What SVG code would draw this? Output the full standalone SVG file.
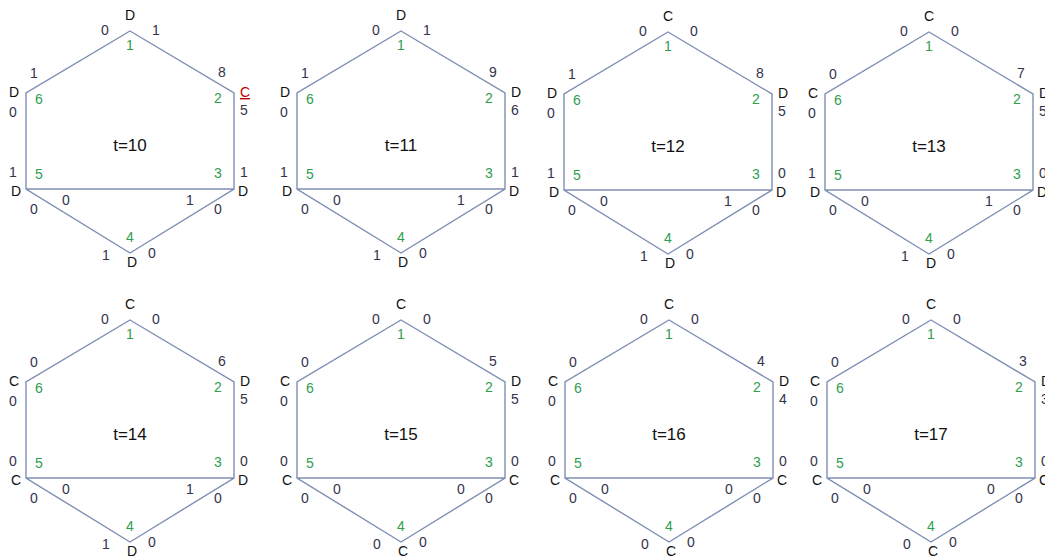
<svg xmlns="http://www.w3.org/2000/svg" width="1045" height="558" viewBox="0 0 1045 558">
<defs>
<style>
.e{stroke:#7f8fb4;stroke-width:1.4;fill:none}
text{font-family:"Liberation Sans",Arial,sans-serif;font-size:14px;text-anchor:middle}
.n{fill:#33334a}
.l{fill:#111}
.g{fill:#2f9e4f}
.t{fill:#111;font-size:17px}
.r{fill:#c00000;text-decoration:underline}
</style>
<path id="hex" class="e" d="M0,0 L104,62 L104,158 L0,222 L-104,158 L-104,62 Z M-104,158 L104,158"/>
</defs>
<g id="connectors">
<use href="#hex" transform="translate(130,31)"/>
<use href="#hex" transform="translate(401,31)"/>
<use href="#hex" transform="translate(668,32)"/>
<use href="#hex" transform="translate(929,32)"/>
<use href="#hex" transform="translate(130,320)"/>
<use href="#hex" transform="translate(401,320)"/>
<use href="#hex" transform="translate(669,320)"/>
<use href="#hex" transform="translate(931,320)"/>
</g>

<g id="panel-t10" transform="translate(130,31)">
<g id="p10-n1"><text class="l" x="0" y="-11">D</text><text class="n" x="-25" y="4">0</text><text class="n" x="26" y="4">1</text><text class="g" x="0" y="19">1</text></g>
<g id="p10-n6"><text class="n" x="-96" y="47">1</text><text class="l" x="-116" y="66">D</text><text class="g" x="-91" y="73">6</text><text class="n" x="-117" y="86">0</text></g>
<g id="p10-n2"><text class="n" x="92" y="46">8</text><text class="r" x="115" y="66">C</text><text class="g" x="88" y="72">2</text><text class="n" x="114" y="84">5</text></g>
<text class="t" x="0" y="120">t=10</text>
<g id="p10-n5"><text class="n" x="-117" y="146">1</text><text class="g" x="-91" y="148">5</text><text class="l" x="-114" y="165">D</text><text class="n" x="-96" y="183">0</text><text class="n" x="-64" y="174">0</text></g>
<g id="p10-n3"><text class="g" x="88" y="147">3</text><text class="n" x="114" y="146">1</text><text class="l" x="113" y="165">D</text><text class="n" x="60" y="174">1</text><text class="n" x="88" y="183">0</text></g>
<g id="p10-n4"><text class="g" x="0" y="211">4</text><text class="n" x="-24" y="229">1</text><text class="l" x="2" y="236">D</text><text class="n" x="22" y="227">0</text></g>
</g>

<g id="panel-t11" transform="translate(401,31)">
<g id="p11-n1"><text class="l" x="0" y="-11">D</text><text class="n" x="-25" y="4">0</text><text class="n" x="26" y="4">1</text><text class="g" x="0" y="19">1</text></g>
<g id="p11-n6"><text class="n" x="-96" y="47">1</text><text class="l" x="-116" y="66">D</text><text class="g" x="-91" y="73">6</text><text class="n" x="-117" y="86">0</text></g>
<g id="p11-n2"><text class="n" x="92" y="46">9</text><text class="l" x="115" y="66">D</text><text class="g" x="88" y="72">2</text><text class="n" x="114" y="84">6</text></g>
<text class="t" x="0" y="120">t=11</text>
<g id="p11-n5"><text class="n" x="-117" y="146">1</text><text class="g" x="-91" y="148">5</text><text class="l" x="-114" y="165">D</text><text class="n" x="-96" y="183">0</text><text class="n" x="-64" y="174">0</text></g>
<g id="p11-n3"><text class="g" x="88" y="147">3</text><text class="n" x="114" y="146">1</text><text class="l" x="113" y="165">D</text><text class="n" x="60" y="174">1</text><text class="n" x="88" y="183">0</text></g>
<g id="p11-n4"><text class="g" x="0" y="211">4</text><text class="n" x="-24" y="229">1</text><text class="l" x="2" y="236">D</text><text class="n" x="22" y="227">0</text></g>
</g>

<g id="panel-t12" transform="translate(668,32)">
<g id="p12-n1"><text class="l" x="0" y="-11">C</text><text class="n" x="-25" y="4">0</text><text class="n" x="26" y="4">0</text><text class="g" x="0" y="19">1</text></g>
<g id="p12-n6"><text class="n" x="-96" y="47">1</text><text class="l" x="-116" y="66">D</text><text class="g" x="-91" y="73">6</text><text class="n" x="-117" y="86">0</text></g>
<g id="p12-n2"><text class="n" x="92" y="46">8</text><text class="l" x="115" y="66">D</text><text class="g" x="88" y="72">2</text><text class="n" x="114" y="84">5</text></g>
<text class="t" x="0" y="120">t=12</text>
<g id="p12-n5"><text class="n" x="-117" y="146">1</text><text class="g" x="-91" y="148">5</text><text class="l" x="-114" y="165">D</text><text class="n" x="-96" y="183">0</text><text class="n" x="-64" y="174">0</text></g>
<g id="p12-n3"><text class="g" x="88" y="147">3</text><text class="n" x="114" y="146">0</text><text class="l" x="113" y="165">D</text><text class="n" x="60" y="174">1</text><text class="n" x="88" y="183">0</text></g>
<g id="p12-n4"><text class="g" x="0" y="211">4</text><text class="n" x="-24" y="229">1</text><text class="l" x="2" y="236">D</text><text class="n" x="22" y="227">0</text></g>
</g>

<g id="panel-t13" transform="translate(929,32)">
<g id="p13-n1"><text class="l" x="0" y="-11">C</text><text class="n" x="-25" y="4">0</text><text class="n" x="26" y="4">0</text><text class="g" x="0" y="19">1</text></g>
<g id="p13-n6"><text class="n" x="-96" y="47">0</text><text class="l" x="-116" y="66">C</text><text class="g" x="-91" y="73">6</text><text class="n" x="-117" y="86">0</text></g>
<g id="p13-n2"><text class="n" x="92" y="46">7</text><text class="l" x="115" y="66">D</text><text class="g" x="88" y="72">2</text><text class="n" x="114" y="84">5</text></g>
<text class="t" x="0" y="120">t=13</text>
<g id="p13-n5"><text class="n" x="-117" y="146">1</text><text class="g" x="-91" y="148">5</text><text class="l" x="-114" y="165">D</text><text class="n" x="-96" y="183">0</text><text class="n" x="-64" y="174">0</text></g>
<g id="p13-n3"><text class="g" x="88" y="147">3</text><text class="n" x="114" y="146">0</text><text class="l" x="113" y="165">D</text><text class="n" x="60" y="174">1</text><text class="n" x="88" y="183">0</text></g>
<g id="p13-n4"><text class="g" x="0" y="211">4</text><text class="n" x="-24" y="229">1</text><text class="l" x="2" y="236">D</text><text class="n" x="22" y="227">0</text></g>
</g>

<g id="panel-t14" transform="translate(130,320)">
<g id="p14-n1"><text class="l" x="0" y="-11">C</text><text class="n" x="-25" y="4">0</text><text class="n" x="26" y="4">0</text><text class="g" x="0" y="19">1</text></g>
<g id="p14-n6"><text class="n" x="-96" y="47">0</text><text class="l" x="-116" y="66">C</text><text class="g" x="-91" y="73">6</text><text class="n" x="-117" y="86">0</text></g>
<g id="p14-n2"><text class="n" x="92" y="46">6</text><text class="l" x="115" y="66">D</text><text class="g" x="88" y="72">2</text><text class="n" x="114" y="84">5</text></g>
<text class="t" x="0" y="120">t=14</text>
<g id="p14-n5"><text class="n" x="-117" y="146">0</text><text class="g" x="-91" y="148">5</text><text class="l" x="-114" y="165">C</text><text class="n" x="-96" y="183">0</text><text class="n" x="-64" y="174">0</text></g>
<g id="p14-n3"><text class="g" x="88" y="147">3</text><text class="n" x="114" y="146">0</text><text class="l" x="113" y="165">D</text><text class="n" x="60" y="174">1</text><text class="n" x="88" y="183">0</text></g>
<g id="p14-n4"><text class="g" x="0" y="211">4</text><text class="n" x="-24" y="229">1</text><text class="l" x="2" y="236">D</text><text class="n" x="22" y="227">0</text></g>
</g>

<g id="panel-t15" transform="translate(401,320)">
<g id="p15-n1"><text class="l" x="0" y="-11">C</text><text class="n" x="-25" y="4">0</text><text class="n" x="26" y="4">0</text><text class="g" x="0" y="19">1</text></g>
<g id="p15-n6"><text class="n" x="-96" y="47">0</text><text class="l" x="-116" y="66">C</text><text class="g" x="-91" y="73">6</text><text class="n" x="-117" y="86">0</text></g>
<g id="p15-n2"><text class="n" x="92" y="46">5</text><text class="l" x="115" y="66">D</text><text class="g" x="88" y="72">2</text><text class="n" x="114" y="84">5</text></g>
<text class="t" x="0" y="120">t=15</text>
<g id="p15-n5"><text class="n" x="-117" y="146">0</text><text class="g" x="-91" y="148">5</text><text class="l" x="-114" y="165">C</text><text class="n" x="-96" y="183">0</text><text class="n" x="-64" y="174">0</text></g>
<g id="p15-n3"><text class="g" x="88" y="147">3</text><text class="n" x="114" y="146">0</text><text class="l" x="113" y="165">C</text><text class="n" x="60" y="174">0</text><text class="n" x="88" y="183">0</text></g>
<g id="p15-n4"><text class="g" x="0" y="211">4</text><text class="n" x="-24" y="229">0</text><text class="l" x="2" y="236">C</text><text class="n" x="22" y="227">0</text></g>
</g>

<g id="panel-t16" transform="translate(669,320)">
<g id="p16-n1"><text class="l" x="0" y="-11">C</text><text class="n" x="-25" y="4">0</text><text class="n" x="26" y="4">0</text><text class="g" x="0" y="19">1</text></g>
<g id="p16-n6"><text class="n" x="-96" y="47">0</text><text class="l" x="-116" y="66">C</text><text class="g" x="-91" y="73">6</text><text class="n" x="-117" y="86">0</text></g>
<g id="p16-n2"><text class="n" x="92" y="46">4</text><text class="l" x="115" y="66">D</text><text class="g" x="88" y="72">2</text><text class="n" x="114" y="84">4</text></g>
<text class="t" x="0" y="120">t=16</text>
<g id="p16-n5"><text class="n" x="-117" y="146">0</text><text class="g" x="-91" y="148">5</text><text class="l" x="-114" y="165">C</text><text class="n" x="-96" y="183">0</text><text class="n" x="-64" y="174">0</text></g>
<g id="p16-n3"><text class="g" x="88" y="147">3</text><text class="n" x="114" y="146">0</text><text class="l" x="113" y="165">C</text><text class="n" x="60" y="174">0</text><text class="n" x="88" y="183">0</text></g>
<g id="p16-n4"><text class="g" x="0" y="211">4</text><text class="n" x="-24" y="229">0</text><text class="l" x="2" y="236">C</text><text class="n" x="22" y="227">0</text></g>
</g>

<g id="panel-t17" transform="translate(931,320)">
<g id="p17-n1"><text class="l" x="0" y="-11">C</text><text class="n" x="-25" y="4">0</text><text class="n" x="26" y="4">0</text><text class="g" x="0" y="19">1</text></g>
<g id="p17-n6"><text class="n" x="-96" y="47">0</text><text class="l" x="-116" y="66">C</text><text class="g" x="-91" y="73">6</text><text class="n" x="-117" y="86">0</text></g>
<g id="p17-n2"><text class="n" x="92" y="46">3</text><text class="l" x="115" y="66">D</text><text class="g" x="88" y="72">2</text><text class="n" x="114" y="84">3</text></g>
<text class="t" x="0" y="120">t=17</text>
<g id="p17-n5"><text class="n" x="-117" y="146">0</text><text class="g" x="-91" y="148">5</text><text class="l" x="-114" y="165">C</text><text class="n" x="-96" y="183">0</text><text class="n" x="-64" y="174">0</text></g>
<g id="p17-n3"><text class="g" x="88" y="147">3</text><text class="n" x="114" y="146">0</text><text class="l" x="113" y="165">C</text><text class="n" x="60" y="174">0</text><text class="n" x="88" y="183">0</text></g>
<g id="p17-n4"><text class="g" x="0" y="211">4</text><text class="n" x="-24" y="229">0</text><text class="l" x="2" y="236">C</text><text class="n" x="22" y="227">0</text></g>
</g>
</svg>
